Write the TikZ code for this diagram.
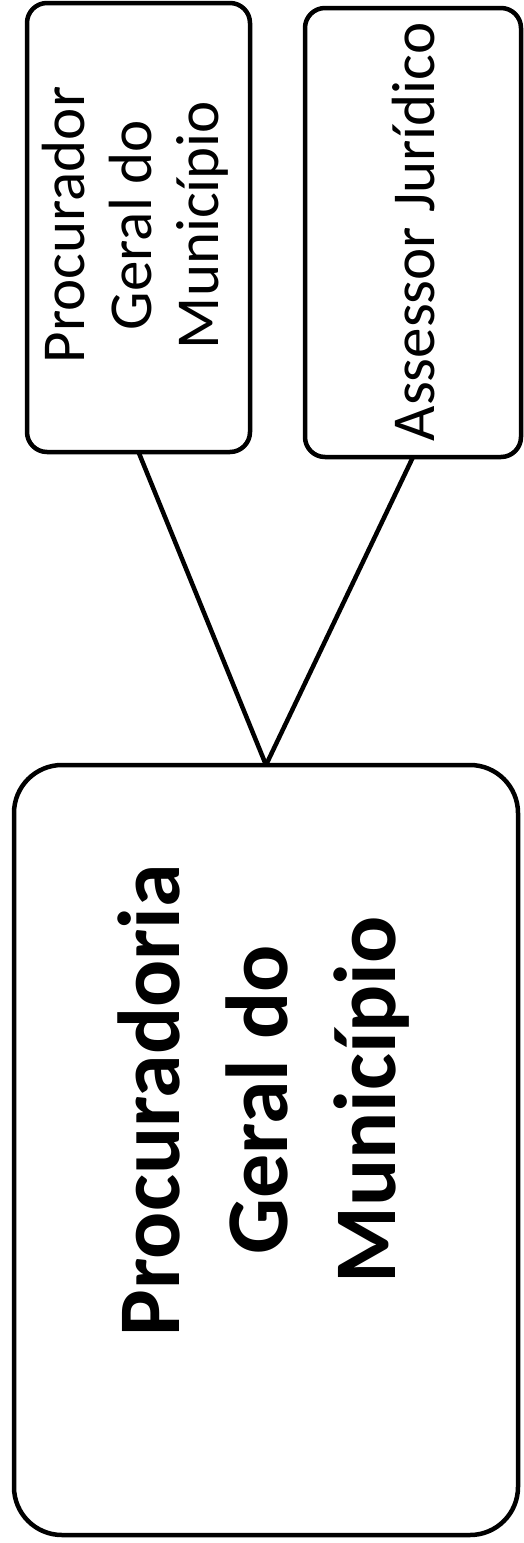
\documentclass[tikz,border=0pt]{standalone}
\usepackage{fontspec}
\setmainfont{Carlito}
\begin{document}
\begin{tikzpicture}[x=1pt,y=-1pt,
  box/.style={draw=black, line width=4.5pt, rectangle, inner sep=0pt, outer sep=0pt},
  smallbox/.style={box, rounded corners=20pt},
  bigbox/.style={box, rounded corners=48pt},
  smalltext/.style={rotate=90, align=center, inner sep=0pt, font=\fontsize{61}{67}\selectfont},
  bigtext/.style={rotate=90, align=center, inner sep=0pt, font=\fontsize{88}{108}\selectfont\bfseries},
  link/.style={draw=black, line width=4.5pt}]
\useasboundingbox (0,0) rectangle (524,1543);
\fill[white] (0,0) rectangle (524,1543);
\node[smallbox, minimum width=223pt, minimum height=449pt] (L) at (138.5,227.5) {};
\node[smallbox, minimum width=216pt, minimum height=449pt] (R) at (413,232.5) {};
\node[bigbox, minimum width=504pt, minimum height=770pt] (B) at (266,1150) {};
\node[smalltext] (Lt) at (135,225) {Procurador\\Geral do\\Município};
\node[smalltext] (Rt) at (414,232) {Assessor Jurídico};
\node[bigtext] (Bt) at (264,1100) {Procuradoria\\Geral do\\Município};
\draw[link] (L.south) -- (B.north);
\draw[link] (R.south) -- (B.north);
\end{tikzpicture}
\end{document}
